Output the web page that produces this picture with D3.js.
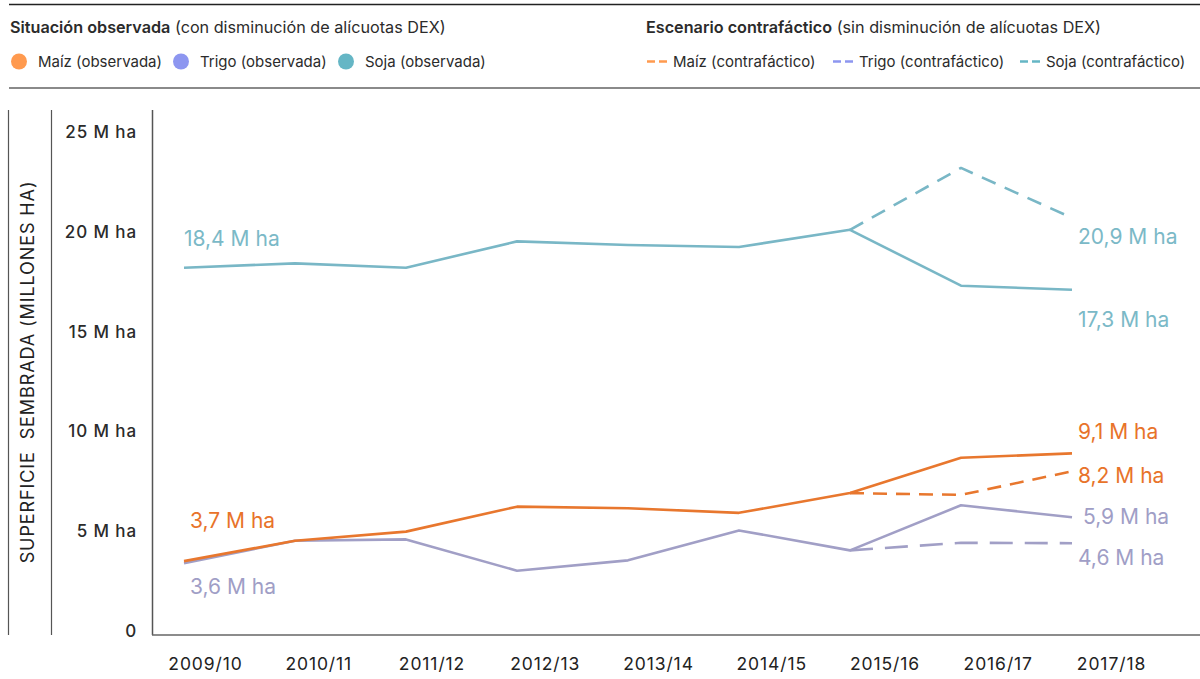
<!DOCTYPE html>
<html>
<head>
<meta charset="utf-8">
<script src="https://cdn.jsdelivr.net/npm/d3@7"></script>
<style>
  html, body { margin: 0; padding: 0; background: #fff; }
  svg { display: block; font-family: Inter, Roboto, sans-serif; }
</style>
</head>
<body>
<svg id="chart" width="1200" height="679"></svg>
<script>
// Campaigns (x categories)
const seasons = ["2009/10", "2010/11", "2011/12", "2012/13", "2013/14", "2014/15", "2015/16", "2016/17", "2017/18"];

// Observed planted area, millions of hectares
const maizObs  = [3.7, 4.72, 5.18, 6.43, 6.35, 6.12, 7.11, 8.88, 9.1];
const trigoObs = [3.6, 4.72, 4.79, 3.22, 3.74, 5.24, 4.24, 6.5, 5.9];
const sojaObs  = [18.4, 18.62, 18.4, 19.72, 19.54, 19.44, 20.3, 17.5, 17.3];

// Counterfactual scenario (no DEX reduction), from 2015/16 onwards
const cfSeasons = ["2015/16", "2016/17", "2017/18"];
const maizCf  = [7.11, 7.02, 8.2];
const trigoCf = [4.24, 4.62, 4.6];
const sojaCf  = [20.3, 23.4, 20.9];

// Y axis ticks
const yTicks = [0, 5, 10, 15, 20, 25];

const C = {
  maiz:  { line: "#e8772e", text: "#e8732a", dot: "#ff9a4f" },
  trigo: { line: "#a19fc6", text: "#a09ec6", dot: "#8d96f0" },
  soja:  { line: "#79b7c6", text: "#7bb9c7", dot: "#65b6c5" }
};

const svg = d3.select("#chart");

const x = d3.scalePoint().domain(seasons).range([184, 1072]);
const xLab = d3.scalePoint().domain(seasons).range([205, 1111]);
const y = d3.scaleLinear().domain([0, 25]).range([635, 136]);

// Frame rules
svg.append("line").attr("x1", 9).attr("x2", 1200).attr("y1", 4.5).attr("y2", 4.5)
  .attr("stroke", "#222").attr("stroke-width", 1.5);
svg.append("line").attr("x1", 9).attr("x2", 1200).attr("y1", 88).attr("y2", 88)
  .attr("stroke", "#8a8a8a").attr("stroke-width", 2);
[8.5, 51.5].forEach(px => {
  svg.append("line").attr("x1", px).attr("x2", px).attr("y1", 110).attr("y2", 635)
    .attr("stroke", "#555").attr("stroke-width", 1.2);
});

const legendSize = 15;
const titleSize = 16.2;

// Legend: observed
const lg1 = svg.append("g");
const t1 = lg1.append("text").attr("x", 10).attr("y", 32.5).attr("font-size", titleSize).attr("fill", "#2b2b2b");
t1.append("tspan").attr("font-weight", 600).text("Situación observada");
t1.append("tspan").text(" (con disminución de alícuotas DEX)");

const obsItems = [
  { label: "Maíz (observada)",  c: C.maiz.dot,  x: 19 },
  { label: "Trigo (observada)", c: C.trigo.dot, x: 181 },
  { label: "Soja (observada)",  c: C.soja.dot,  x: 346 }
];
obsItems.forEach(d => {
  lg1.append("circle").attr("cx", d.x).attr("cy", 61.5).attr("r", 8).attr("fill", d.c);
  lg1.append("text").attr("x", d.x + 19).attr("y", 67).attr("font-size", legendSize).attr("fill", "#2b2b2b").text(d.label);
});

// Legend: counterfactual
const lg2 = svg.append("g");
const t2 = lg2.append("text").attr("x", 646).attr("y", 32.5).attr("font-size", titleSize).attr("fill", "#2b2b2b");
t2.append("tspan").attr("font-weight", 600).text("Escenario contrafáctico");
t2.append("tspan").text(" (sin disminución de alícuotas DEX)");

const cfItems = [
  { label: "Maíz (contrafáctico)",  c: C.maiz.dot,  x: 647 },
  { label: "Trigo (contrafáctico)", c: C.trigo.dot, x: 833 },
  { label: "Soja (contrafáctico)",  c: C.soja.dot,  x: 1020 }
];
cfItems.forEach(d => {
  lg2.append("line").attr("x1", d.x).attr("x2", d.x + 20).attr("y1", 61.5).attr("y2", 61.5)
    .attr("stroke", d.c).attr("stroke-width", 2.5).attr("stroke-dasharray", "8,4");
  lg2.append("text").attr("x", d.x + 26).attr("y", 67).attr("font-size", legendSize).attr("fill", "#2b2b2b").text(d.label);
});

// Y axis title
svg.append("text")
  .attr("transform", "translate(33.5,372) rotate(-90)")
  .attr("text-anchor", "middle")
  .attr("font-size", 18)
  .attr("letter-spacing", 0.9)
  .attr("fill", "#222")
  .attr("xml:space", "preserve")
  .style("white-space", "pre")
  .text("SUPERFICIE  SEMBRADA (MILLONES HA)");

// Y axis labels
const yAxis = svg.append("g")
  .attr("transform", "translate(137,-4)")
  .call(d3.axisLeft(y).tickValues(yTicks).tickSize(0).tickPadding(0)
    .tickFormat(v => v === 0 ? "0" : v + " M ha"));
yAxis.select(".domain").remove();
yAxis.selectAll("text").attr("font-size", 17).attr("font-weight", 500).attr("fill", "#2b2b2b")
  .attr("letter-spacing", 0.9)
  .attr("font-family", "Inter, sans-serif");

// X axis labels
const xAxis = svg.append("g")
  .attr("transform", "translate(0,658)")
  .call(d3.axisBottom(xLab).tickSize(0).tickPadding(0));
xAxis.select(".domain").remove();
xAxis.selectAll("text").attr("font-size", 17.5).attr("fill", "#222")
  .attr("letter-spacing", 0.9)
  .attr("font-family", "Inter, sans-serif");

// Axis lines
svg.append("line").attr("x1", 152.5).attr("x2", 152.5).attr("y1", 110).attr("y2", 635)
  .attr("stroke", "#555").attr("stroke-width", 1.5);
svg.append("line").attr("x1", 152).attr("x2", 1200).attr("y1", 635).attr("y2", 635)
  .attr("stroke", "#666").attr("stroke-width", 1.5);

const line = d3.line().x(d => x(d[0])).y(d => y(d[1]));

function drawSeries(cats, vals, color, dash) {
  svg.append("path")
    .datum(cats.map((c, i) => [c, vals[i]]))
    .attr("d", line)
    .attr("fill", "none")
    .attr("stroke", color)
    .attr("stroke-width", 2.6)
    .attr("stroke-linejoin", "round")
    .attr("stroke-dasharray", dash || null);
}

drawSeries(cfSeasons, sojaCf, C.soja.line, "15,10");
drawSeries(cfSeasons, maizCf, C.maiz.line, "14,9");
drawSeries(cfSeasons, trigoCf, C.trigo.line, "23,12");
drawSeries(seasons, sojaObs, C.soja.line);
drawSeries(seasons, trigoObs, C.trigo.line);
drawSeries(seasons, maizObs, C.maiz.line);

// Value labels
const fmt = v => d3.format(".1f")(v).replace(".", ",") + " M ha";
const last = seasons.length - 1;
const valueLabels = [
  { v: sojaObs[0],  c: C.soja.text,  x: x(seasons[0]),  dy: -29 },
  { v: maizObs[0],  c: C.maiz.text,  x: x(seasons[0]) + 6, dy: -40 },
  { v: trigoObs[0], c: C.trigo.text, x: x(seasons[0]) + 6, dy: 24 },
  { v: sojaCf[2],   c: C.soja.text,  x: x(seasons[last]) + 6, dy: 19 },
  { v: sojaObs[last], c: C.soja.text, x: x(seasons[last]) + 6, dy: 30 },
  { v: maizObs[last], c: C.maiz.text, x: x(seasons[last]) + 6, dy: -22 },
  { v: maizCf[2],   c: C.maiz.text,  x: x(seasons[last]) + 6, dy: 4 },
  { v: trigoObs[last], c: C.trigo.text, x: x(seasons[last]) + 11, dy: -1 },
  { v: trigoCf[2],  c: C.trigo.text, x: x(seasons[last]) + 6, dy: 14 }
];
svg.append("g").selectAll("text").data(valueLabels).join("text")
  .attr("x", d => d.x)
  .attr("y", d => y(d.v) + d.dy)
  .attr("dy", "0.35em")
  .attr("font-size", 21)
  .attr("fill", d => d.c)
  .text(d => fmt(d.v));
</script>
</body>
</html>
